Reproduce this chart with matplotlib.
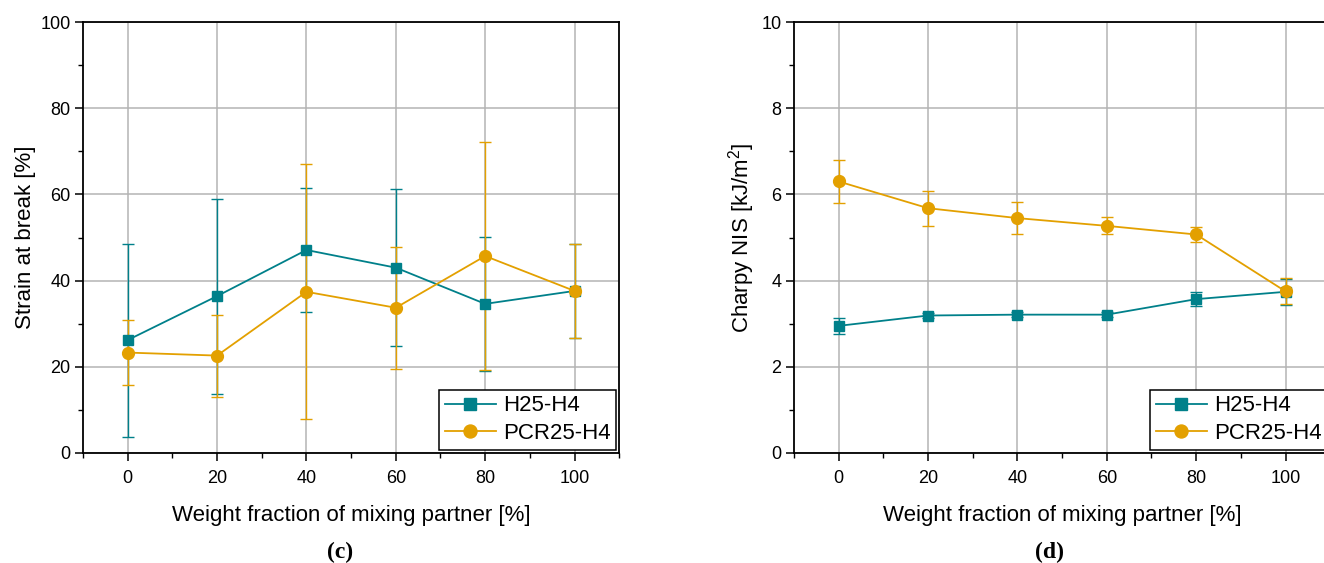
import matplotlib
matplotlib.use('Agg')
import matplotlib.pyplot as plt
from matplotlib.ticker import MultipleLocator

plt.rcParams['font.family'] = ['Liberation Sans', 'DejaVu Sans']
plt.rcParams['mathtext.default'] = 'regular'

# weight fraction of mixing partner [%]
fraction = [0, 20, 40, 60, 80, 100]

# strain at break [%]
strain_h25 = [26.2, 36.4, 47.1, 43.0, 34.6, 37.6]
strain_h25_err = [22.4, 22.6, 14.5, 18.2, 15.5, 10.9]
strain_pcr = [23.3, 22.6, 37.4, 33.7, 45.7, 37.6]
strain_pcr_err = [7.5, 9.5, 29.6, 14.2, 26.5, 10.9]

# Charpy notched impact strength [kJ/m2]
charpy_h25 = [2.95, 3.19, 3.21, 3.21, 3.57, 3.74]
charpy_h25_err = [0.18, 0.05, 0.05, 0.05, 0.17, 0.3]
charpy_pcr = [6.30, 5.68, 5.45, 5.27, 5.07, 3.75]
charpy_pcr_err = [0.5, 0.41, 0.38, 0.2, 0.18, 0.3]

series_names = ['H25-H4', 'PCR25-H4']

TEAL = '#00808a'
ORANGE = '#e3a000'

fig = plt.figure(figsize=(13.24, 5.63), dpi=100)
ax_c = fig.add_axes([0.0627, 0.1954, 0.405, 0.7655])
ax_d = fig.add_axes([0.5997, 0.1954, 0.405, 0.7655])


def draw_panel(ax, y1, e1, y2, e2, ymax, ystep, ylabel):
    eb1 = ax.errorbar(fraction, y1, yerr=e1, color=TEAL, marker='s', markersize=7.5,
                      linewidth=1.3, elinewidth=1.0, capsize=4, capthick=1.0,
                      zorder=3)
    eb2 = ax.errorbar(fraction, y2, yerr=e2, color=ORANGE, marker='o', markersize=8.5,
                      linewidth=1.3, elinewidth=1.0, capsize=4, capthick=1.0,
                      zorder=3)
    ax.set_xlim(-10, 110)
    ax.set_ylim(0, ymax)
    ax.set_xticks(fraction)
    ax.xaxis.set_minor_locator(MultipleLocator(10))
    ax.yaxis.set_major_locator(MultipleLocator(ystep))
    ax.yaxis.set_minor_locator(MultipleLocator(ystep / 2))
    ax.tick_params(which='major', direction='out', length=6, width=1.1,
                   labelsize=13, color='black')
    ax.tick_params(axis='x', which='major', pad=6)
    ax.tick_params(axis='y', which='major', pad=3)
    ax.tick_params(which='minor', direction='out', length=3.5, width=1.0)
    ax.grid(True, which='major', color='#b4b4b4', linewidth=1.1, zorder=0)
    for sp in ax.spines.values():
        sp.set_linewidth(1.3)
    ax.set_xlabel('Weight fraction of mixing partner [%]', fontsize=16, labelpad=13)
    ax.set_ylabel(ylabel, fontsize=16, labelpad=3)
    # legend shows only line + marker, no error bar caps
    leg = ax.legend([eb1[0], eb2[0]], series_names, loc='lower right', fontsize=16,
                    frameon=True, fancybox=False, edgecolor='black', framealpha=1,
                    borderpad=0.25, borderaxespad=0.15, handlelength=2.3,
                    handletextpad=0.3, labelspacing=0.3, markerscale=1.1)
    leg.get_frame().set_linewidth(1.1)


draw_panel(ax_c, strain_h25, strain_h25_err, strain_pcr, strain_pcr_err,
           100, 20, 'Strain at break [%]')
draw_panel(ax_d, charpy_h25, charpy_h25_err, charpy_pcr, charpy_pcr_err,
           10, 2, 'Charpy NIS [kJ/m$^2$]')

fig.text(340 / 1324, 1 - 552 / 563, '(c)', ha='center', va='center',
         fontsize=17, family='Liberation Serif', fontweight='bold')
fig.text(1050 / 1324, 1 - 552 / 563, '(d)', ha='center', va='center',
         fontsize=17, family='Liberation Serif', fontweight='bold')

fig.savefig('out.png', dpi=100)
